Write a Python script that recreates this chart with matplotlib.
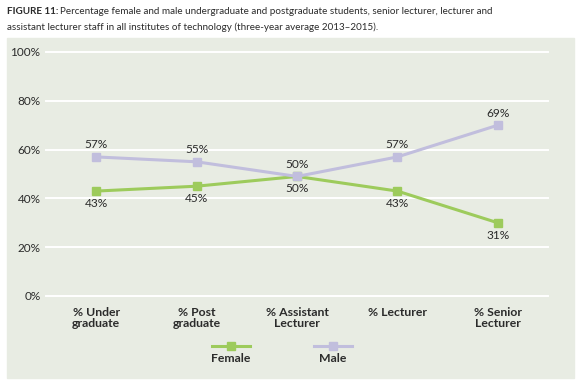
import matplotlib.pyplot as plt
from matplotlib.lines import Line2D
from matplotlib.patches import Rectangle

# data
categories = ['% Under\ngraduate', '% Post\ngraduate', '% Assistant\nLecturer',
              '% Lecturer', '% Senior\nLecturer']
female = [43, 45, 49, 43, 30]
male = [57, 55, 49, 57, 70]
female_labels = ['43%', '45%', '50%', '43%', '31%']
male_labels = ['57%', '55%', '50%', '57%', '69%']
yticks = [0, 20, 40, 60, 80, 100]

green = '#9dcb5c'
lilac = '#c1bedd'
panel = '#e8ece3'
txt = '#2b2b2b'

plt.rcParams['font.family'] = ['Lato', 'DejaVu Sans']

W, H = 581, 385
fig = plt.figure(figsize=(W / 100, H / 100), dpi=100)
fig.patches.append(Rectangle((7 / W, 1 - 378 / H), 567 / W, 340 / H,
                             transform=fig.transFigure, color=panel, zorder=-10))

# title: bold prefix then regular text
tsize = 7.15
t1 = fig.text(7 / W, 1 - 12 / H, 'FIGURE 11:', fontsize=tsize, fontweight='bold',
              color=txt, va='center', ha='left')
fig.canvas.draw()
bb = t1.get_window_extent()
fig.text(bb.x1 / W + 2 / W, 1 - 12 / H,
         'Percentage female and male undergraduate and postgraduate students, senior lecturer, lecturer and',
         fontsize=tsize, color=txt, va='center', ha='left')
fig.text(7 / W, 1 - 27 / H,
         'assistant lecturer staff in all institutes of technology (three-year average 2013\u20132015).',
         fontsize=tsize, color=txt, va='center', ha='left')

ax = fig.add_axes([46 / W, 1 - 296 / H, 502 / W, 244 / H])
ax.set_facecolor('none')
for s in ax.spines.values():
    s.set_visible(False)
ax.set_xlim(-0.5, len(categories) - 0.5)
ax.set_ylim(0, 100)
ax.set_yticks(yticks)
ax.set_yticklabels([f'{v}%' for v in yticks], fontsize=8.5, color=txt)
for v in yticks:
    ax.axhline(v, color='white', lw=1.4, zorder=1, clip_on=False)
ax.set_xticks(range(len(categories)))
ax.set_xticklabels(categories, fontsize=8.8, fontweight='bold', color=txt,
                   linespacing=1.0, va='top')
ax.tick_params(length=0)
ax.tick_params(axis='y', pad=4)
ax.tick_params(axis='x', pad=8)

x = range(len(categories))
ax.plot(x, female, color=green, lw=2.2, marker='s', ms=5.5, zorder=3, clip_on=False)
ax.plot(x, male, color=lilac, lw=2.2, marker='s', ms=5.5, zorder=3, clip_on=False)

for i in x:
    ax.annotate(male_labels[i], (i, male[i]), xytext=(0, 8.6), textcoords='offset points',
                ha='center', va='center', fontsize=8.6, color=txt)
    ax.annotate(female_labels[i], (i, female[i]), xytext=(0, -9), textcoords='offset points',
                ha='center', va='center', fontsize=8.6, color=txt)

# legend: line sample above name
for cx, col, name in [(231, green, 'Female'), (333, lilac, 'Male')]:
    fig.add_artist(Line2D([(cx - 19) / W, (cx + 19) / W], [1 - 346 / H] * 2, color=col,
                          lw=2.2, transform=fig.transFigure))
    fig.add_artist(Line2D([cx / W], [1 - 346 / H], color=col, marker='s', ms=5.5,
                          transform=fig.transFigure))
    fig.text(cx / W, 1 - 358 / H, name, fontsize=8.8, fontweight='bold', color=txt,
             ha='center', va='center')

fig.savefig('out.png', dpi=100)
